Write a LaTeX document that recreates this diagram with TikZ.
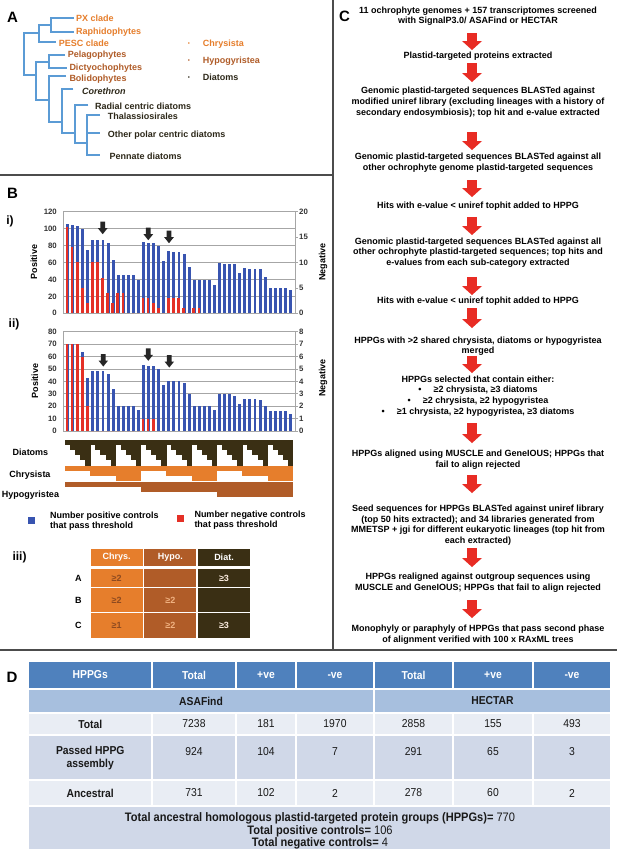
\documentclass[tikz,border=0pt]{standalone}
\usepackage{fontspec}
\setmainfont{Liberation Sans}
\newfontfamily\narrowfont[FakeStretch=0.9]{Liberation Sans}
\usetikzlibrary{arrows.meta}

\definecolor{treeblue}{RGB}{91,155,213}
\definecolor{chrysorange}{RGB}{230,126,44}
\definecolor{hypobrown}{RGB}{176,92,40}
\definecolor{diatdark}{RGB}{58,47,20}
\definecolor{diatink}{RGB}{45,40,25}
\definecolor{posblue}{RGB}{56,84,176}
\definecolor{negred}{RGB}{228,48,38}
\definecolor{flowred}{RGB}{232,44,36}
\definecolor{hdrblue}{RGB}{79,129,189}
\definecolor{subblue}{RGB}{167,191,222}
\definecolor{rowlight}{RGB}{233,237,244}
\definecolor{rowmid}{RGB}{208,216,232}

\newcommand{\colw}{5.067}

\tikzset{
  panel/.style={inner sep=0, font=\fontsize{15}{15}\selectfont\bfseries},
  sub/.style={inner sep=0, font=\fontsize{12}{12}\selectfont\bfseries},
  sepline/.style={draw=black!70, line width=1.3pt},
  tree/.style={draw=treeblue, line width=1.8pt},
  taxon/.style={anchor=west, inner sep=0, font=\fontsize{9}{9}\selectfont\bfseries},
  gridline/.style={draw=black!35, line width=0.6pt},
  ticklabel/.style={inner sep=0, font=\fontsize{7.8}{8}\selectfont\bfseries, text=black!80},
  axislabel/.style={inner sep=0, rotate=90, font=\fontsize{9}{9}\selectfont\bfseries},
  posbar/.style={fill=posblue},
  negbar/.style={fill=negred},
  rowname/.style={inner sep=0, font=\fontsize{9}{9}\selectfont\bfseries},
  keytext/.style={anchor=north west, inner sep=0, align=left, font=\fontsize{9}{10}\selectfont\bfseries},
  cell/.style={inner sep=0, minimum width=52pt, font=\fontsize{9}{9}\selectfont\bfseries},
  flowtext/.style={anchor=north, align=center, inner sep=0, font=\fontsize{9}{10.7}\selectfont\bfseries},
  flowarrow/.style={draw=flowred, line width=10.7pt, -{Triangle[width=20pt,length=9pt,line width=0pt]}},
  dhead/.style={inner sep=0, text=white, font=\narrowfont\fontsize{11.5}{13}\selectfont\bfseries},
  dcell/.style={inner sep=0, text=black!90, align=center, font=\narrowfont\fontsize{11.5}{13}\selectfont},
  dbold/.style={dcell, font=\narrowfont\fontsize{11.5}{13}\selectfont\bfseries},
  markarrow/.pic={\fill[black!85] (-2.4,0) -- (2.4,0) -- (2.4,6.5) -- (4.8,6.5) -- (0,12.5) -- (-4.8,6.5) -- (-2.4,6.5) -- cycle;}
}

\begin{document}
\begin{tikzpicture}[x=1pt, y=-1pt]
\useasboundingbox[fill=white] (0,0) rectangle (617,849);

% Panel borders
\draw[sepline] (0,175) -- (333,175);
\draw[sepline] (333,0) -- (333,650);
\draw[sepline] (0,650) -- (617,650);

% ---------- A: tree of ochrophytes
\node[panel] (labA) at (12.5,17.5) {A};
\draw[tree] (74,18.3) -| (50.7,31.7) -- (74,31.7);
\draw[tree] (50.7,25) -| (39.3,41.7) -- (56,41.7);
\draw[tree] (39.3,33.3) -| (24,75) -- (36,75);
\draw[tree] (49.3,61.7) -| (36,100) -- (49.3,100);
\draw[tree] (65,55) -| (49.3,68.3) -- (67,68.3);
\draw[tree] (66,76.3) -| (49.3,121.7) -- (62,121.7);
\draw[tree] (73.3,89.3) -| (62,132.7) -- (75,132.7);
\draw[tree] (88.3,105) -| (75,143.3) -- (87.3,143.3);
\draw[tree] (100,115) -| (87.3,155) -- (100,155);
\draw[tree] (87.3,133.3) -- (100,133.3);
\node[taxon, text=chrysorange] (px) at (76,18.3) {PX clade};
\node[taxon, text=chrysorange] (raphido) at (76,31.7) {Raphidophytes};
\node[taxon, text=chrysorange] (pesc) at (58.7,43.5) {PESC clade};
\node[taxon, text=hypobrown] (pelago) at (67.7,55) {Pelagophytes};
\node[taxon, text=hypobrown] (dictyo) at (69.3,68.3) {Dictyochophytes};
\node[taxon, text=hypobrown] (bolido) at (69.3,79.3) {Bolidophytes};
\node[taxon, text=diatink] (corethron) at (82,91.7) {\itshape Corethron};
\node[taxon, text=diatink] (radial) at (95,106.7) {Radial centric diatoms};
\node[taxon, text=diatink] (thalass) at (107.7,116.7) {Thalassiosirales};
\node[taxon, text=diatink] (polar) at (107.7,135) {Other polar centric diatoms};
\node[taxon, text=diatink] (pennate) at (109.3,156.7) {Pennate diatoms};
% key
\node[inner sep=0, text=chrysorange, font=\fontsize{6}{6}\selectfont] (dotC) at (189,44) {•};
\node[inner sep=0, text=hypobrown, font=\fontsize{6}{6}\selectfont] (dotH) at (189,60.7) {•};
\node[inner sep=0, text=diatink, font=\fontsize{6}{6}\selectfont] (dotD) at (189,77.7) {•};
\node[taxon, text=chrysorange] (keyC) at (202.7,44) {Chrysista};
\node[taxon, text=hypobrown] (keyH) at (202.7,60.7) {Hypogyristea};
\node[taxon, text=diatink] (keyD) at (202.7,77.7) {Diatoms};

% ---------- B: bar charts
\node[panel] (labB) at (12.5,193) {B};
\node[sub] (labi) at (10,221) {i)};
\node[sub] (labii) at (14,324) {ii)};
\node[sub] (labiii) at (19.5,557) {iii)};

% chart i: 0 at y=313.3, 0.847 per unit
\foreach \t in {0,20,...,120} {
  \draw[gridline] (63,{313.3-\t*0.847}) -- (295,{313.3-\t*0.847});
  \node[ticklabel, anchor=east] (pi\t) at (57,{313.3-\t*0.847}) {\t};
}
\foreach \t in {0,5,...,20} {
  \draw[gridline] (295,{313.3-\t*5.082}) -- ++(3,0);
  \node[ticklabel, anchor=west] (ni\t) at (299,{313.3-\t*5.082}) {\t};
}
\draw[gridline] (63,211.7) -- (63,313.3);
\draw[gridline] (295,211.7) -- (295,313.3);
\foreach \v [count=\i] in {105,104,103,100,75,87,86,86,83,63,45,45,45,45,39,84,83,83,80,62,73,72,72,70,55,39,39,39,39,34,59,58,58,58,48,53,52,52,52,43,30,30,30,30,27}
  \fill[posbar] ({65+(\i-0.5)*\colw-1.45},313.3) rectangle ++(2.9,{-\v*0.847});
\foreach \v [count=\i] in {17,13,10,5,2,10,10,7,4,2,4,4,0,0,0,3,3,2,1,0,3,3,3,1,0,1,1}
  \fill[negbar] ({65+(\i-0.5)*\colw-1.75},313.3) rectangle ++(2.6,{-\v*5.082});
\node[axislabel] (posi) at (34,262) {Positive};
\node[axislabel] (negi) at (323,262) {Negative};
\pic (mki1) at (102.7,221.7) {markarrow};
\pic (mki2) at (148.3,227.7) {markarrow};
\pic (mki3) at (169,230.7) {markarrow};

% chart ii: 0 at y=431, 1.241 per unit
\foreach \t in {0,10,...,80} {
  \draw[gridline] (63,{431-\t*1.241}) -- (295,{431-\t*1.241});
  \node[ticklabel, anchor=east] (pii\t) at (57,{431-\t*1.241}) {\t};
}
\foreach \t in {0,...,8} {
  \draw[gridline] (295,{431-\t*12.41}) -- ++(3,0);
  \node[ticklabel, anchor=west] (nii\t) at (299,{431-\t*12.41}) {\t};
}
\draw[gridline] (63,331.7) -- (63,431);
\draw[gridline] (295,331.7) -- (295,431);
\foreach \v [count=\i] in {70,70,70,64,43,48,48,48,46,34,20,20,20,20,17,53,52,52,50,37,40,40,40,39,30,20,20,20,20,17,30,30,30,28,22,26,26,26,25,20,16,16,16,16,14}
  \fill[posbar] ({65+(\i-0.5)*\colw-1.45},431) rectangle ++(2.9,{-\v*1.241});
\foreach \v [count=\i] in {7,7,7,6,2,0,0,0,0,0,0,0,0,0,0,1,1,1}
  \fill[negbar] ({65+(\i-0.5)*\colw-1.75},431) rectangle ++(2.6,{-\v*12.41});
\node[axislabel] (posii) at (35,381) {Positive};
\node[axislabel] (negii) at (323,378) {Negative};
\pic (mkii1) at (103.3,354) {markarrow};
\pic (mkii2) at (148.3,348.3) {markarrow};
\pic (mkii3) at (169.3,355) {markarrow};

% lineage thresholds below the bars
\foreach \c in {0,...,44} {
  \pgfmathtruncatemacro{\nd}{mod(\c,5)+1}
  \pgfmathtruncatemacro{\nc}{mod(int(\c/5),3)+1}
  \pgfmathtruncatemacro{\nh}{int(\c/15)+1}
  \fill[diatdark] ({65+\c*\colw},439.5) rectangle ++({\colw+0.2},{\nd*5.2});
  \fill[chrysorange] ({65+\c*\colw},465.5) rectangle ++({\colw+0.2},{\nc*5.33});
  \fill[hypobrown] ({65+\c*\colw},481.5) rectangle ++({\colw+0.2},{\nh*5.33});
}
\node[rowname] (rowD) at (30.5,452.5) {Diatoms};
\node[rowname] (rowC) at (30,475.5) {Chrysista};
\node[rowname] (rowH) at (30.5,495.5) {Hypogyristea};

% key
\fill[posblue] (28,516.5) rectangle ++(7,7);
\node[keytext] (keypos) at (50,512) {Number positive controls\\that pass threshold};
\fill[negred] (177,515) rectangle ++(7,7);
\node[keytext] (keyneg) at (194.3,511) {Number negative controls\\that pass threshold};

% iii: selection criteria
\node[cell, fill=chrysorange, minimum height=16.7pt, text=white] (hchrys) at (116.7,557.3) {Chrys.};
\node[cell, fill=hypobrown, minimum height=16.7pt, text=white] (hhypo) at (170.3,557.3) {Hypo.};
\node[cell, fill=diatdark, minimum height=16.7pt, text=white] (hdiat) at (224,557.3) {Diat.};
\node[rowname] (rA) at (78.3,578) {A};
\node[cell, fill=chrysorange, minimum height=17.7pt, text=hypobrown!80!black] (aC) at (116.7,578) {≥2};
\node[cell, fill=hypobrown, minimum height=17.7pt] (aH) at (170.3,578) {};
\node[cell, fill=diatdark, minimum height=17.7pt, text=white!85!chrysorange] (aD) at (224,578) {≥3};
\node[rowname] (rB) at (78.3,600) {B};
\node[cell, fill=chrysorange, minimum height=23.4pt, text=hypobrown!80!black] (bC) at (116.7,600) {≥2};
\node[cell, fill=hypobrown, minimum height=23.4pt, text=chrysorange!60!white] (bH) at (170.3,600) {≥2};
\node[cell, fill=diatdark, minimum height=23.4pt] (bD) at (224,600) {};
\node[rowname] (rC) at (78.3,625.8) {C};
\node[cell, fill=chrysorange, minimum height=25pt, text=hypobrown!80!black] (cC) at (116.7,625.8) {≥1};
\node[cell, fill=hypobrown, minimum height=25pt, text=chrysorange!60!white] (cH) at (170.3,625.8) {≥2};
\node[cell, fill=diatdark, minimum height=25pt, text=white!85!chrysorange] (cD) at (224,625.8) {≥3};

% ---------- C: pipeline
\node[panel] (labC) at (344.5,16.5) {C};
\coordinate (ax) at (472,0);
\node[flowtext] (s1) at (478,6.45) {11 ochrophyte genomes + 157 transcriptomes screened\\with SignalP3.0/ ASAFind or HECTAR};
\node[flowtext] (s2) at (478,51.45) {Plastid-targeted proteins extracted};
\node[flowtext] (s3) at (478,87.15) {Genomic plastid-targeted sequences BLASTed against\\modified uniref library (excluding lineages with a history of\\secondary endosymbiosis); top hit and e-value extracted};
\node[flowtext] (s4) at (478,153.15) {Genomic plastid-targeted sequences BLASTed against all\\other ochrophyte genome plastid-targeted sequences};
\node[flowtext] (s5) at (478,202.15) {Hits with e-value < uniref tophit added to HPPG};
\node[flowtext] (s6) at (478,237.45) {Genomic plastid-targeted sequences BLASTed against all\\other ochrophyte plastid-targeted sequences; top hits and\\e-values from each sub-category extracted};
\node[flowtext] (s7) at (478,296.45) {Hits with e-value < uniref tophit added to HPPG};
\node[flowtext] (s8) at (478,336.45) {HPPGs with >2 shared chrysista, diatoms or hypogyristea\\merged};
\node[flowtext] (s9) at (478,375.45) {HPPGs selected that contain either:\\•\hspace{12pt}≥2 chrysista, ≥3 diatoms\\•\hspace{12pt}≥2 chrysista, ≥2 hypogyristea\\•\hspace{12pt}≥1 chrysista, ≥2 hypogyristea, ≥3 diatoms};
\node[flowtext] (s10) at (478,449.75) {HPPGs aligned using MUSCLE and GeneIOUS; HPPGs that\\fail to align rejected};
\node[flowtext] (s11) at (478,504.75) {Seed sequences for HPPGs BLASTed against uniref library\\(top 50 hits extracted); and 34 libraries generated from\\MMETSP + jgi for different eukaryotic lineages (top hit from\\each extracted)};
\node[flowtext] (s12) at (478,573.15) {HPPGs realigned against outgroup sequences using\\MUSCLE and GeneIOUS; HPPGs that fail to align rejected};
\node[flowtext] (s13) at (478,624.75) {Monophyly or paraphyly of HPPGs that pass second phase\\of alignment verified with 100 x RAxML trees};
\draw[flowarrow, shorten <=7.2pt, shorten >=1.45pt] (s1.south -| ax) -- (s2.north -| ax);
\draw[flowarrow, shorten <=2.9pt, shorten >=5.15pt] (s2.south -| ax) -- (s3.north -| ax);
\draw[flowarrow, shorten <=14.8pt, shorten >=3.15pt] (s3.south -| ax) -- (s4.north -| ax);
\draw[flowarrow, shorten <=7.5pt, shorten >=5.15pt] (s4.south -| ax) -- (s5.north -| ax);
\draw[flowarrow, shorten <=5.9pt, shorten >=2.45pt] (s5.south -| ax) -- (s6.north -| ax);
\draw[flowarrow, shorten <=9.2pt, shorten >=1.45pt] (s6.south -| ax) -- (s7.north -| ax);
\draw[flowarrow, shorten <=2.9pt, shorten >=8.45pt] (s7.south -| ax) -- (s8.north -| ax);
\draw[flowarrow, shorten <=0pt, shorten >=2.45pt] (s8.south -| ax) -- (s9.north -| ax);
\draw[flowarrow, shorten <=6.8pt, shorten >=6.75pt] (s9.south -| ax) -- (s10.north -| ax);
\draw[flowarrow, shorten <=5.9pt, shorten >=11.75pt] (s10.south -| ax) -- (s11.north -| ax);
\draw[flowarrow, shorten <=2.5pt, shorten >=6.15pt] (s11.south -| ax) -- (s12.north -| ax);
\draw[flowarrow, shorten <=7.5pt, shorten >=6.75pt] (s12.south -| ax) -- (s13.north -| ax);

% ---------- D: summary table
\node[panel] (labD) at (12,677) {D};
\foreach \a/\b in {28.5/152,152/236,236/296,296/374,374/453,453/533,533/611} {
  \fill[hdrblue] ({\a+0.75},662) rectangle ({\b-0.75},688);
  \fill[rowlight] ({\a+0.75},714) rectangle ({\b-0.75},734);
  \fill[rowmid] ({\a+0.75},736) rectangle ({\b-0.75},779);
  \fill[rowlight] ({\a+0.75},781) rectangle ({\b-0.75},805);
}
\fill[subblue] (29.25,690) rectangle (373.25,712);
\fill[subblue] (374.75,690) rectangle (610.25,712);
\fill[rowmid] (29.25,807) rectangle (610.25,849);
\foreach \t/\x [count=\k] in {HPPGs/90.25,Total/194,+ve/266,-ve/335,Total/413.5,+ve/493,-ve/572}
  \node[dhead] (dh\k) at (\x,675) {\t};
\node[dbold] (dasa) at (201,701) {ASAFind};
\node[dbold] (dhec) at (492.5,701) {HECTAR};
\foreach \t/\x [count=\k] in {7238/194,181/266,1970/335,2858/413.5,155/493,493/572}
  \node[dcell] (dt\k) at (\x,724) {\t};
\foreach \t/\x [count=\k] in {924/194,104/266,7/335,291/413.5,65/493,3/572}
  \node[dcell] (dp\k) at (\x,751.5) {\t};
\foreach \t/\x [count=\k] in {731/194,102/266,2/335,278/413.5,60/493,2/572}
  \node[dcell] (da\k) at (\x,793) {\t};
\node[dbold] (dtot) at (90.25,724) {Total};
\node[dbold] (dpass) at (90.25,758) {Passed HPPG\\assembly};
\node[dbold] (danc) at (90.25,793) {Ancestral};
\node[dcell, font=\narrowfont\fontsize{12.3}{12.8}\selectfont] (dsum) at (320,831) {\textbf{Total ancestral homologous plastid-targeted protein groups (HPPGs)=} 770\\\textbf{Total positive controls=} 106\\\textbf{Total negative controls=} 4};
\end{tikzpicture}
\end{document}
